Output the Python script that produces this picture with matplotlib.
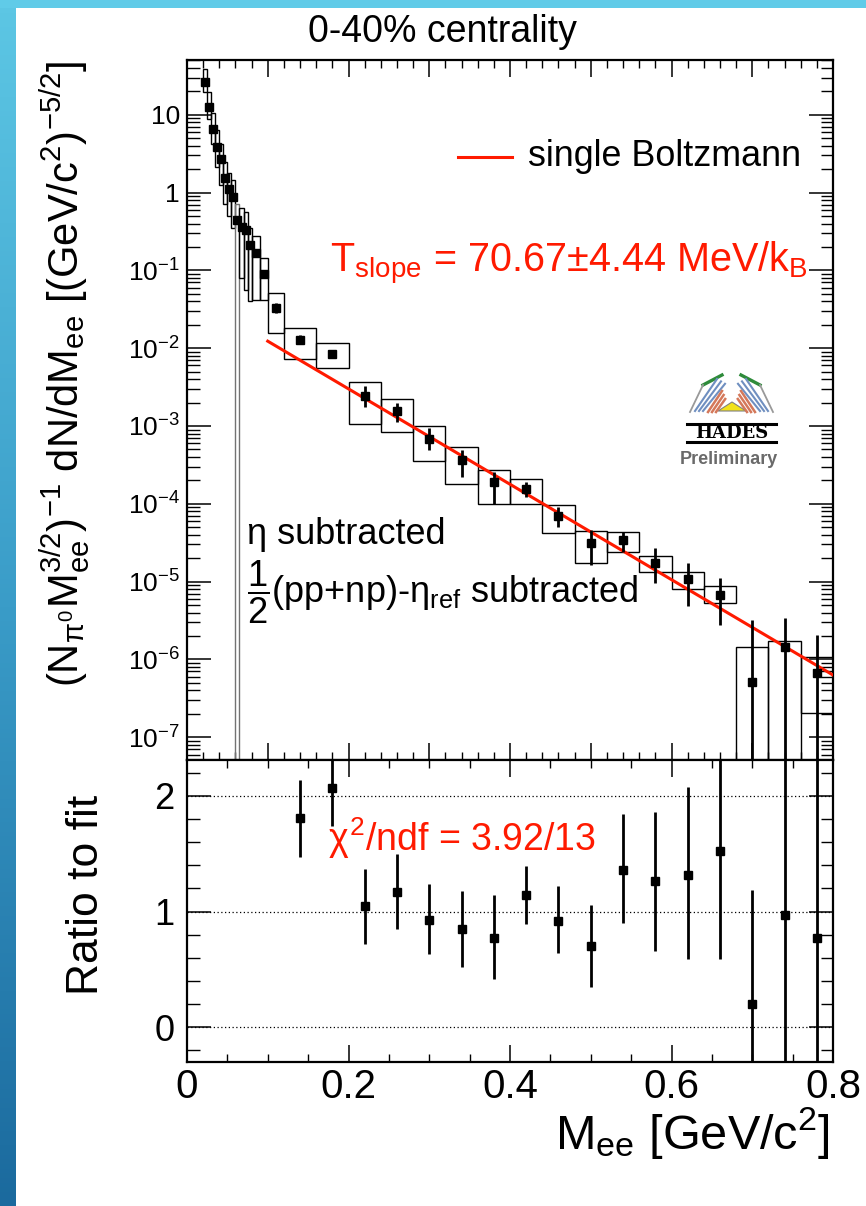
import numpy as np
import matplotlib
matplotlib.use("Agg")
import matplotlib.pyplot as plt
from matplotlib.patches import Rectangle, Polygon
from matplotlib.colors import LinearSegmentedColormap
from matplotlib.ticker import FixedLocator, FixedFormatter, MultipleLocator, NullFormatter

plt.rcParams['font.family'] = ['Liberation Sans', 'DejaVu Sans']
plt.rcParams['mathtext.fontset'] = 'custom'
plt.rcParams['mathtext.rm'] = 'Liberation Sans'
plt.rcParams['mathtext.it'] = 'Liberation Sans'
plt.rcParams['mathtext.bf'] = 'Liberation Sans:bold'

# ---- data ----
mass = [0.0225, 0.0275, 0.0325, 0.0375, 0.0425, 0.0475, 0.0525, 0.0575, 0.0625, 0.0675,
        0.0725, 0.0775, 0.085, 0.095, 0.11, 0.14, 0.18, 0.22, 0.26, 0.30, 0.34, 0.38,
        0.42, 0.46, 0.50, 0.54, 0.58, 0.62, 0.66, 0.70, 0.74, 0.78]
bin_w = [0.005] * 12 + [0.01, 0.01, 0.02] + [0.04] * 17
yld = [26, 12.4, 6.5, 3.9, 2.66, 1.56, 1.10, 0.88, 0.45, 0.365,
       0.334, 0.21, 0.167, 0.0906, 0.0327, 0.0129, 0.0085, 2.43e-3, 1.55e-3, 6.9e-4, 3.64e-4, 1.88e-4,
       1.55e-4, 6.95e-5, 3.1e-5, 3.42e-5, 1.75e-5, 1.07e-5, 6.73e-6, 5.2e-7, 1.46e-6, 6.65e-7]
# stat error band (upper / lower end), 1e-12 = below the axis
stat_hi = [28.5, 13.5, 7.1, 4.3, 2.9, 1.72, 1.21, 0.97, 0.50, 0.40,
           0.37, 0.235, 0.185, 0.102, 0.0378, 0.0146, 0.0094, 3.24e-3, 1.95e-3, 9.3e-4, 4.9e-4, 2.58e-4,
           1.91e-4, 9.2e-5, 4.59e-5, 4.38e-5, 2.67e-5, 1.72e-5, 1.1e-5, 3.21e-6, 3.38e-6, 2.06e-6]
stat_lo = [23.8, 11.4, 5.9, 3.55, 2.42, 1.42, 1.0, 0.80, 0.41, 0.33,
           0.30, 0.188, 0.15, 0.081, 0.0283, 0.0113, 0.0077, 1.76e-3, 1.13e-3, 4.9e-4, 2.18e-4, 9.9e-5,
           1.23e-4, 5.07e-5, 1.63e-5, 2.42e-5, 9.7e-6, 4.86e-6, 2.77e-6, 1e-12, 1e-12, 1e-12]
# systematic boxes (top / bottom)
sys_hi = [38.5, 19.7, 10.5, 6.3, 4.2, 2.5, 1.8, 1.45, 0.71, 0.63,
          0.56, 0.35, 0.28, 0.145, 0.051, 0.0182, 0.0115, 3.68e-3, 2.21e-3, 1.01e-3, 5.3e-4, 2.71e-4,
          2.09e-4, 9.7e-5, 4.5e-5, 4.38e-5, 2.13e-5, 1.34e-5, 8.77e-6, 1.46e-6, 1.74e-6, 1.08e-6]
sys_lo = [19.7, 8.9, 4.2, 2.1, 1.26, 0.71, 0.5, 0.35, 1e-12, 0.079,
          0.056, 0.040, 0.041, 0.042, 0.0155, 0.0072, 0.0055, 1.05e-3, 8.26e-4, 3.56e-4, 1.79e-4, 9.9e-5,
          9.9e-5, 4.25e-5, 1.72e-5, 2.4e-5, 1.34e-5, 7.96e-6, 5.36e-6, 1e-12, 1e-12, 2.02e-7]

# Boltzmann fit line end points
fit_x = [0.10, 0.80]
fit_y = [1.23e-2, 6.3e-7]

# ratio to fit
r_mass = [0.14, 0.18, 0.22, 0.26, 0.30, 0.34, 0.38, 0.42, 0.46, 0.50, 0.54, 0.58, 0.62, 0.66, 0.70, 0.74, 0.78]
ratio = [1.81, 2.07, 1.05, 1.17, 0.93, 0.85, 0.77, 1.14, 0.92, 0.70, 1.36, 1.26, 1.32, 1.52, 0.20, 0.97, 0.77]
ratio_hi = [2.14, 2.5, 1.37, 1.50, 1.24, 1.18, 1.14, 1.39, 1.22, 1.06, 1.84, 1.86, 2.08, 2.5, 1.19, 2.5, 2.5]
ratio_lo = [1.47, 1.74, 0.72, 0.85, 0.63, 0.52, 0.42, 0.89, 0.64, 0.35, 0.90, 0.66, 0.59, 0.59, -0.5, -0.5, -0.5]

ytick_vals = [10, 1, 1e-1, 1e-2, 1e-3, 1e-4, 1e-5, 1e-6, 1e-7]
ytick_labels = ['10', '1', '$10^{-1}$', '$10^{-2}$', '$10^{-3}$', '$10^{-4}$', '$10^{-5}$', '$10^{-6}$', '$10^{-7}$']
xtick_vals = [0, 0.2, 0.4, 0.6, 0.8]
xtick_labels = ['0', '0.2', '0.4', '0.6', '0.8']
rtick_vals = [0, 1, 2]
rtick_labels = ['0', '1', '2']

W, H = 866, 1206
RED = '#ff1a00'
fig = plt.figure(figsize=(W / 100, H / 100), dpi=100)


def fbox(l, t, r, b):
    return [l / W, 1 - b / H, (r - l) / W, (b - t) / H]


# ---- upper panel ----
ax = fig.add_axes(fbox(187, 60, 833, 760))
ax.set_yscale('log')
for m, w, hi, lo in zip(mass, bin_w, sys_hi, sys_lo):
    ec = '0.45' if lo < 1e-9 and m < 0.1 else 'k'
    ax.add_patch(Rectangle((m - w / 2, lo), w, hi - lo, fill=False, ec=ec, lw=1.0, zorder=2))
yv = np.array(yld)
ax.errorbar(mass, yld, yerr=[yv - np.array(stat_lo), np.array(stat_hi) - yv], fmt='s', color='k',
            ms=5.5, elinewidth=2.0, capsize=0, zorder=4)
ax.plot(fit_x, fit_y, color=RED, lw=2.2, zorder=3)
ax.set_xlim(0, 0.8)
ax.set_ylim(5.1e-8, 50.5)
ax.yaxis.set_major_locator(FixedLocator(ytick_vals))
ax.yaxis.set_major_formatter(FixedFormatter(ytick_labels))
ax.yaxis.set_minor_locator(FixedLocator([k * 10.0 ** e for e in range(-8, 2) for k in range(2, 10)]))
ax.yaxis.set_minor_formatter(NullFormatter())
ax.xaxis.set_major_locator(MultipleLocator(0.1))
ax.xaxis.set_minor_locator(MultipleLocator(0.02))
ax.tick_params(axis='x', which='both', direction='in', top=True, bottom=True, labelbottom=False)
ax.tick_params(axis='x', which='major', length=12, width=1.1)
ax.tick_params(axis='x', which='minor', length=6, width=1.0)
ax.tick_params(axis='y', which='both', direction='in', left=True, right=True, labelsize=19, pad=5)
ax.tick_params(axis='y', which='major', length=17, width=1.1)
ax.tick_params(axis='y', which='minor', length=9, width=1.0)
for s in ax.spines.values():
    s.set_linewidth(1.6)

fig.text(528 / W, 1 - 157 / H, 'single Boltzmann', fontsize=25.8, va='center', ha='left')
fig.text(330 / W, 1 - 272 / H, r'T$_{\rm slope}$ = 70.67$\pm$4.44 MeV/k$_{\rm B}$', fontsize=28.5,
         color=RED, va='baseline', ha='left')
fig.text(247 / W, 1 - 535 / H, 'η subtracted', fontsize=26, va='center', ha='left')
fig.text(247 / W, 1 - 592 / H, r'$\dfrac{1}{2}$(pp+np)-η$_{\rm ref}$ subtracted', fontsize=26,
         va='center', ha='left')

# ---- ratio panel ----
axr = fig.add_axes(fbox(187, 760, 833, 1062))
axr.set_xlim(0, 0.8)
axr.set_ylim(-0.30, 2.31)
rv = np.array(ratio)
axr.errorbar(r_mass, ratio, yerr=[rv - np.array(ratio_lo), np.array(ratio_hi) - rv], fmt='s', color='k',
             ms=5.5, elinewidth=2.0, capsize=0, zorder=4)
axr.yaxis.set_major_locator(FixedLocator(rtick_vals))
axr.yaxis.set_major_formatter(FixedFormatter(rtick_labels))
axr.yaxis.set_minor_locator(MultipleLocator(0.2))
axr.xaxis.set_major_locator(FixedLocator(xtick_vals))
axr.xaxis.set_major_formatter(FixedFormatter(xtick_labels))
axr.xaxis.set_minor_locator(MultipleLocator(0.05))
axr.yaxis.grid(True, which='major', ls=(0, (1, 2)), lw=0.9, color='k')
axr.tick_params(axis='x', which='both', direction='in', top=True, bottom=True, labelsize=29, pad=4)
axr.tick_params(axis='x', which='major', length=12, width=1.1)
axr.tick_params(axis='x', which='minor', length=6, width=1.0)
axr.tick_params(axis='y', which='both', direction='in', left=True, right=True, labelsize=26, pad=9)
axr.tick_params(axis='y', which='major', length=17, width=1.1)
axr.tick_params(axis='y', which='minor', length=9, width=1.0)
for s in axr.spines.values():
    s.set_linewidth(1.6)
fig.text(328 / W, 1 - 838 / H, r'$\chi^{2}$/ndf = 3.92/13', fontsize=27, color=RED,
         va='center', ha='left')

# axis titles
fig.text(442 / W, 1 - 32 / H, '0-40% centrality', fontsize=27, ha='center', va='center')
fig.text(65 / W, 1 - 60 / H,
         r'(N$_{\pi^{0}}$M$_{ee}^{3/2}$)$^{-1}$ dN/dM$_{ee}$ [(GeV/c$^{2}$)$^{-5/2}$]',
         fontsize=30, rotation=90, ha='center', va='top')
fig.text(87 / W, 1 - 795 / H, 'Ratio to fit', fontsize=32, rotation=90, ha='center', va='top')
fig.text(830 / W, 1 - 1105 / H, r'M$_{ee}$ [GeV/c$^{2}$]', fontsize=35, ha='right', va='top')

# ---- decorations: frame strips, legend line and HADES logo ----
deco = fig.add_axes([0, 0, 1, 1])
deco.set_axis_off()
deco.patch.set_visible(False)
grad = LinearSegmentedColormap.from_list('strip', ['#5cc6e4', '#3a9cc8', '#1b6a9e'])
deco.imshow(np.linspace(0, 1, 256).reshape(-1, 1), cmap=grad, extent=(0, 16, H, 8), aspect='auto')
deco.add_patch(Rectangle((0, 0), W, 8, color='#60cbe8', lw=0))
deco.set_xlim(0, W)
deco.set_ylim(H, 0)

deco.plot([458, 512], [157, 157], color=RED, lw=2.2)

# logo (pixel coords)
deco.plot([703, 722], [385, 375], color='#2e8b3a', lw=2.4)
deco.plot([760, 741], [385, 375], color='#2e8b3a', lw=2.4)
deco.plot([690, 703], [412, 385], color='0.6', lw=1.3)
deco.plot([773, 760], [412, 385], color='0.6', lw=1.3)
for d in [0, 4, 8]:
    deco.plot([695 + d, 717 + d], [411, 379 + d * 0.6], color='#6f8fc0', lw=1.5)
    deco.plot([768 - d, 746 - d], [411, 379 + d * 0.6], color='#6f8fc0', lw=1.5)
for d in [0, 4, 8]:
    deco.plot([708 + d, 722 + d * 0.4], [412, 391 + d], color='#d4785a', lw=1.8)
    deco.plot([755 - d, 741 - d * 0.4], [412, 391 + d], color='#d4785a', lw=1.8)
deco.add_patch(Polygon([[718, 411], [746, 411], [732, 402]], closed=True, fc='#f2e21a', ec='0.5', lw=0.8))
deco.plot([687, 776], [424, 424], color='k', lw=2.2)
deco.plot([687, 776], [442, 442], color='k', lw=2.2)
deco.text(731.5, 433.5, 'HADES', fontsize=13, fontweight='bold', family='DejaVu Serif',
          ha='center', va='center')
deco.text(729, 460, 'Preliminary', fontsize=13, fontweight='bold', color='#6a6a6a',
          ha='center', va='center')

fig.savefig('out.png', dpi=100, facecolor='white')
